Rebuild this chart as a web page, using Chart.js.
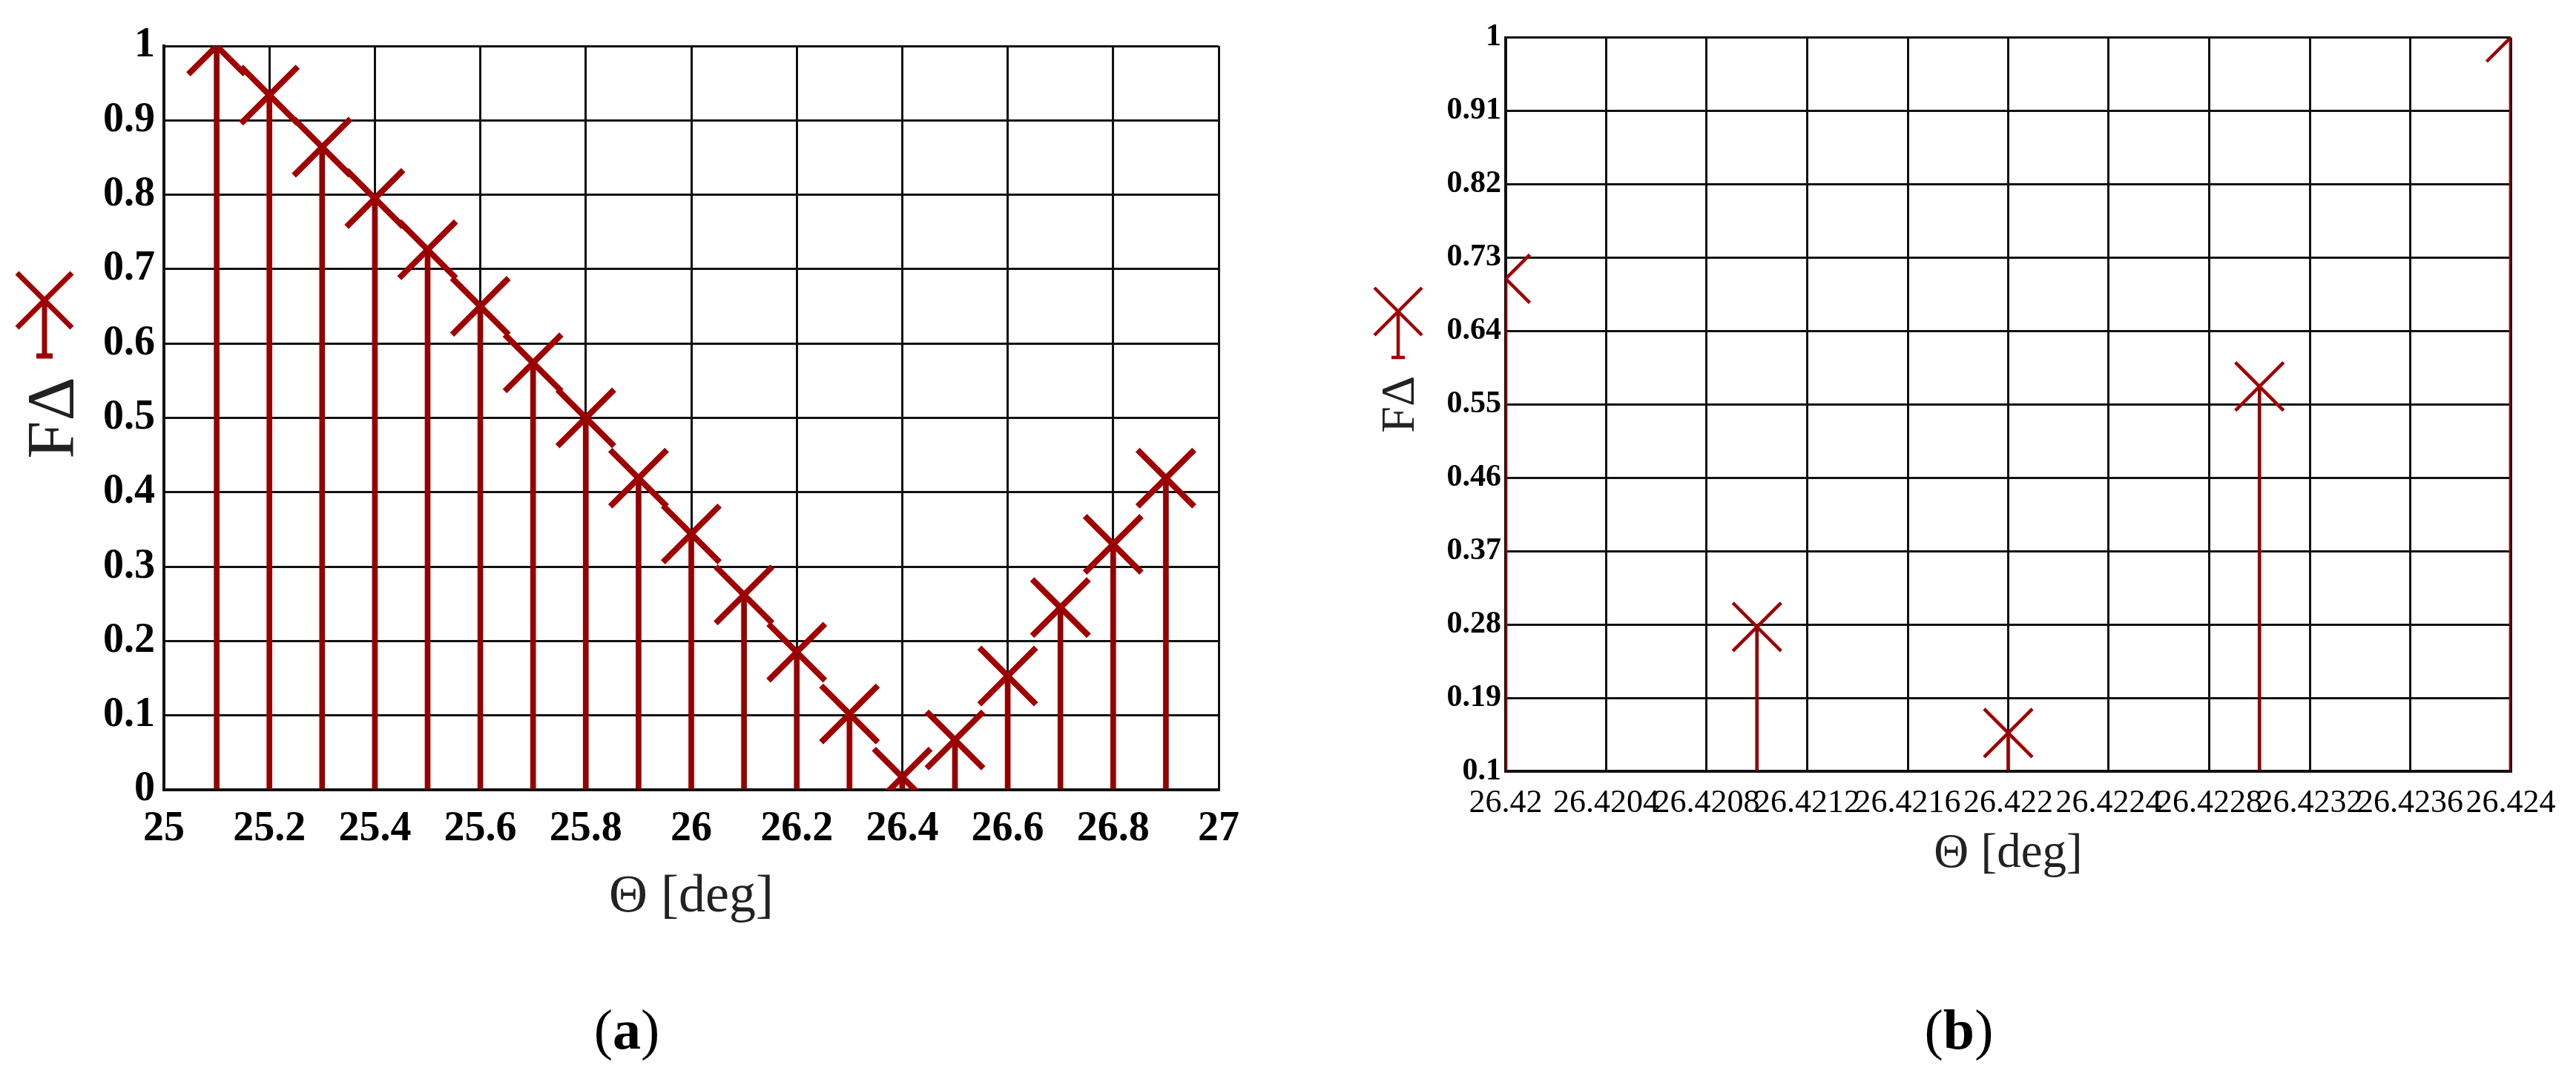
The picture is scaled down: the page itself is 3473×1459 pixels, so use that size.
<!DOCTYPE html>
<html>
<head>
<meta charset="utf-8">
<script src="https://cdn.jsdelivr.net/npm/chart.js@4.4.1/dist/chart.umd.min.js"></script>
<style>
  html, body { margin: 0; padding: 0; background: #fff; }
  body { width: 3473px; height: 1459px; position: relative; overflow: hidden; font-family: "Liberation Serif", serif; }
  canvas { position: absolute; top: 0; }
  #chartA { left: 0; }
  #chartB { left: 1750px; }
  .caption { position: absolute; top: 1350px; font-size: 76px; line-height: 1; color: #000; transform: translateX(-50%); }
</style>
</head>
<body>
<canvas id="chartA" width="1750" height="1300"></canvas>
<canvas id="chartB" width="1723" height="1300"></canvas>
<div class="caption" style="left:845px">(<b>a</b>)</div>
<div class="caption" style="left:2641px">(<b>b</b>)</div>
<script>
// panel (a)
const thetaA = [25.1, 25.2, 25.3, 25.4, 25.5, 25.6, 25.7, 25.8, 25.9, 26.0, 26.1, 26.2, 26.3, 26.4, 26.5, 26.6, 26.7, 26.8, 26.9];
const fA = [1.0, 0.934, 0.864, 0.795, 0.726, 0.65, 0.574, 0.5, 0.419, 0.344, 0.262, 0.185, 0.102, 0.017, 0.067, 0.153, 0.245, 0.33, 0.419];
const xTicksA = [25, 25.2, 25.4, 25.6, 25.8, 26, 26.2, 26.4, 26.6, 26.8, 27];
const yTicksA = [0, 0.1, 0.2, 0.3, 0.4, 0.5, 0.6, 0.7, 0.8, 0.9, 1];

// panel (b)
const thetaB = [26.42, 26.421, 26.422, 26.423, 26.424];
const fB = [0.704, 0.277, 0.147, 0.572, 1.0];
const xTicksB = [26.42, 26.4204, 26.4208, 26.4212, 26.4216, 26.422, 26.4224, 26.4228, 26.4232, 26.4236, 26.424];
const yTicksB = [0.1, 0.19, 0.28, 0.37, 0.46, 0.55, 0.64, 0.73, 0.82, 0.91, 1];

const markColor = '#a00000';
const stemColor = '#960000';
const gridColor = '#111';

Chart.defaults.font.family = "'Liberation Serif', serif";
Chart.defaults.color = '#000';

// Mathcad-style trace symbol next to the y title
const legendIcon = {
    id: 'legendIcon',
    afterDraw(chart, args, o) {
        const c = chart.ctx;
        c.save();
        c.strokeStyle = o.color;
        c.lineWidth = o.width;
        c.beginPath();
        c.moveTo(o.x - o.arm, o.y - o.arm); c.lineTo(o.x + o.arm, o.y + o.arm);
        c.moveTo(o.x + o.arm, o.y - o.arm); c.lineTo(o.x - o.arm, o.y + o.arm);
        c.moveTo(o.x, o.y); c.lineTo(o.x, o.y + o.stem);
        c.moveTo(o.x - o.bar, o.y + o.stem); c.lineTo(o.x + o.bar, o.y + o.stem);
        c.stroke();
        c.restore();
    }
};

function toPoints(xs, ys) {
    return xs.map((x, i) => ({ x: x, y: ys[i] }));
}

function makeChart(id, p) {
    const pts = toPoints(p.xs, p.ys);
    return new Chart(document.getElementById(id), {
        type: 'scatter',
        data: {
            datasets: [
                {
                    type: 'bar',
                    data: pts,
                    backgroundColor: stemColor,
                    borderWidth: 0,
                    barThickness: p.stemWidth,
                    base: p.yMin,
                    clip: 0
                },
                {
                    type: 'scatter',
                    data: pts,
                    pointStyle: 'crossRot',
                    pointRadius: p.markRadius,
                    pointBorderWidth: p.markWidth,
                    borderColor: markColor,
                    backgroundColor: markColor,
                    showLine: false,
                    clip: 0
                }
            ]
        },
        options: {
            responsive: false,
            animation: false,
            events: [],
            layout: { padding: p.padding },
            plugins: {
                legend: { display: false },
                tooltip: { enabled: false },
                legendIcon: p.icon
            },
            scales: {
                x: {
                    type: 'linear',
                    offset: false,
                    min: p.xTicks[0],
                    max: p.xTicks[p.xTicks.length - 1],
                    afterBuildTicks: s => { s.ticks = p.xTicks.map(v => ({ value: v })); },
                    afterFit: s => { s.height = p.xHeight; },
                    grid: { color: gridColor, lineWidth: 3, drawTicks: false, offset: false },
                    border: { color: gridColor, width: 4 },
                    ticks: {
                        autoSkip: false,
                        maxRotation: 0,
                        padding: p.xPad,
                        font: p.xFont,
                        callback: v => String(v)
                    },
                    title: {
                        display: true,
                        text: 'Θ [deg]',
                        color: '#222',
                        font: { size: p.xTitleSize },
                        padding: { top: 0, bottom: p.xTitlePad }
                    }
                },
                y: {
                    min: p.yTicks[0],
                    max: p.yTicks[p.yTicks.length - 1],
                    afterBuildTicks: s => { s.ticks = p.yTicks.map(v => ({ value: v })); },
                    afterFit: s => { s.width = p.yWidth; },
                    grid: { color: gridColor, lineWidth: 3, drawTicks: false },
                    border: { color: gridColor, width: 4 },
                    ticks: {
                        autoSkip: false,
                        padding: p.yPad,
                        font: p.yFont,
                        callback: v => String(v)
                    },
                    title: {
                        display: true,
                        text: 'FΔ',
                        color: '#222',
                        font: { size: p.yTitleSize },
                        padding: { top: p.yTitlePad, bottom: 0 }
                    }
                }
            }
        },
        plugins: [legendIcon]
    });
}

makeChart('chartA', {
    xs: thetaA, ys: fA, xTicks: xTicksA, yTicks: yTicksA, yMin: 0,
    stemWidth: 7, markRadius: 54, markWidth: 8,
    padding: { left: 0, top: 55, right: 107, bottom: 0 },
    xHeight: 235, yWidth: 221,
    xPad: 20, yPad: 12,
    xFont: { size: 56, weight: 'bold' },
    yFont: { size: 56, weight: 'bold' },
    xTitleSize: 72, xTitlePad: 47,
    yTitleSize: 92, yTitlePad: 20,
    icon: { x: 60, y: 405, arm: 37, stem: 75, bar: 11, width: 7, color: markColor }
});

makeChart('chartB', {
    xs: thetaB, ys: fB, xTicks: xTicksB, yTicks: yTicksB, yMin: 0.1,
    stemWidth: 4, markRadius: 46, markWidth: 4.5,
    padding: { left: 0, top: 32, right: 88, bottom: 0 },
    xHeight: 260, yWidth: 280,
    xPad: 17, yPad: 6,
    xFont: { size: 44 },
    yFont: { size: 42, weight: 'bold' },
    xTitleSize: 65, xTitlePad: 109,
    yTitleSize: 64, yTitlePad: 101,
    icon: { x: 135, y: 420, arm: 32, stem: 62, bar: 9, width: 4.5, color: markColor }
});
</script>
</body>
</html>
